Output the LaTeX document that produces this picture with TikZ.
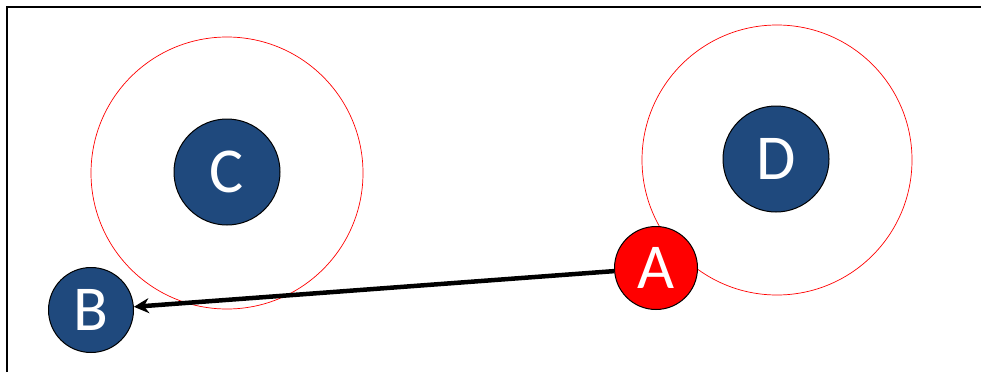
\documentclass[tikz,border=0pt]{standalone}
\usepackage{fontspec}
\setmainfont{Carlito}
\usetikzlibrary{arrows.meta}
\definecolor{navy}{RGB}{31,73,125}
\tikzset{
  ball/.style={circle, draw=black, line width=1pt, fill=navy, text=white, inner sep=0pt, font=\fontsize{64}{64}\selectfont},
  ring/.style={draw=red, line width=0.7pt},
  frame/.style={draw=black, line width=2pt},
  link/.style={draw=black, line width=4.5pt, -{Stealth[length=15pt,width=15pt]}}
}
\begin{document}
\begin{tikzpicture}[x=1pt,y=-1pt]
\useasboundingbox (0,0) rectangle (981,372);
\draw[frame] (6.5,372) -- (6.5,6.5) -- (981,6.5);
\draw[ring] (227,173) circle (136);
\draw[ring] (777,160) circle (135);
\node[ball, minimum size=106pt] (C) at (227,172) {C};
\node[ball, minimum size=106pt] (D) at (776,159) {D};
\node[ball, minimum size=85pt] (B) at (91,310) {B};
\node[ball, fill=red, minimum size=83pt] (A) at (656,268) {A};
\draw[link] (A) -- (B);
\end{tikzpicture}
\end{document}
